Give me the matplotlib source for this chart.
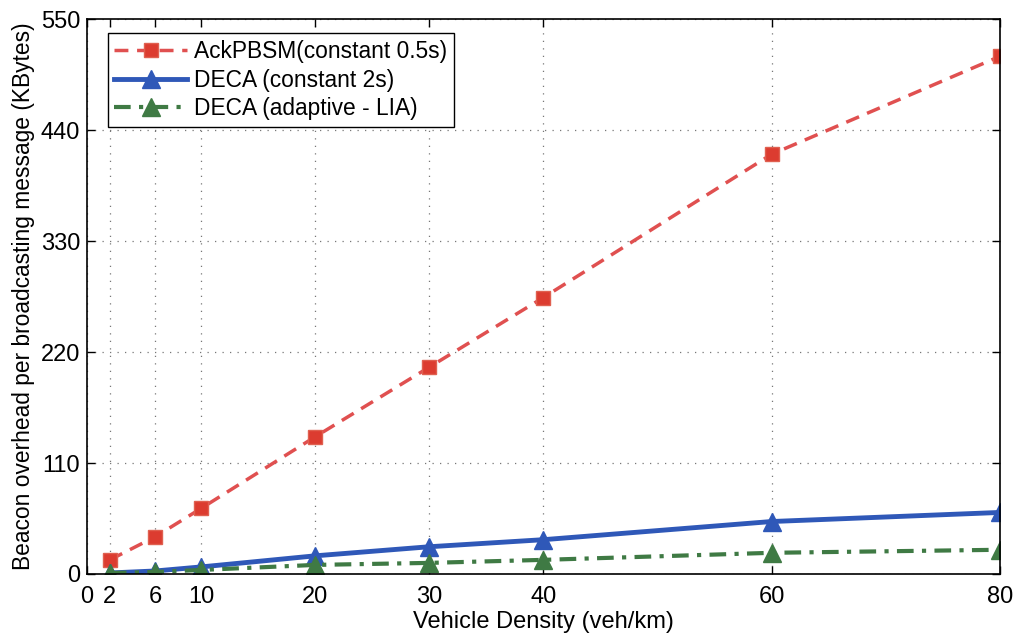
import matplotlib
matplotlib.use("Agg")
import matplotlib.pyplot as plt

density = [2, 6, 10, 20, 30, 40, 60, 80]
ack_pbsm = [14, 37, 65, 136, 205, 274, 416, 513]
deca_const = [1, 3, 7, 18, 27, 34, 52, 61]
deca_adapt = [1, 2, 4, 9, 11, 14, 21, 24]
xticks = [0, 2, 6, 10, 20, 30, 40, 60, 80]
yticks = [0, 110, 220, 330, 440, 550]

plt.rcParams['font.family'] = ['Liberation Sans', 'DejaVu Sans']

fig = plt.figure(figsize=(10.15, 6.36), dpi=100)
ax = fig.add_axes([0.0857, 0.0975, 0.8993, 0.8725])

ax.plot(density, ack_pbsm, linestyle=(0, (4, 2.5)), color='#e05050', linewidth=2.5,
        marker='s', markersize=10, markerfacecolor='#dc3c30', markeredgecolor='#e06050',
        label='AckPBSM(constant 0.5s)')
ax.plot(density, deca_const, linestyle='-', color='#2f58b8', linewidth=3.5,
        marker='^', markersize=13, markerfacecolor='#2f58b8', markeredgecolor='#2f58b8',
        label='DECA (constant 2s)')
ax.plot(density, deca_adapt, linestyle=(0, (4, 2, 1, 2)), color='#3f7a44', linewidth=3,
        marker='^', markersize=13, markerfacecolor='#3f7a44', markeredgecolor='#3f7a44',
        label='DECA (adaptive - LIA)')

ax.set_xlim(0, 80)
ax.set_ylim(0, 550)
ax.set_xticks(xticks)
ax.set_yticks(yticks)
ax.tick_params(direction='in', top=True, right=True, labelsize=17, length=6, width=1, pad=5)
ax.tick_params(axis='x', pad=9)
ax.grid(True, linestyle=(0, (1, 5)), color='#777777', linewidth=0.9)
for s in ax.spines.values():
    s.set_linewidth(1.2)

ax.set_xlabel('Vehicle Density (veh/km)', fontsize=17, labelpad=2)
ax.set_ylabel('Beacon overhead per broadcasting message (KBytes)', fontsize=16.4, labelpad=4)

leg = ax.legend(loc='upper left', fontsize=16.4, handlelength=3.2, borderpad=0.3,
                labelspacing=0.25, handletextpad=0.3, fancybox=False, framealpha=1,
                edgecolor='black', bbox_to_anchor=(0.01, 0.995))
leg.get_frame().set_linewidth(1.0)

fig.savefig('out.png', dpi=100)
